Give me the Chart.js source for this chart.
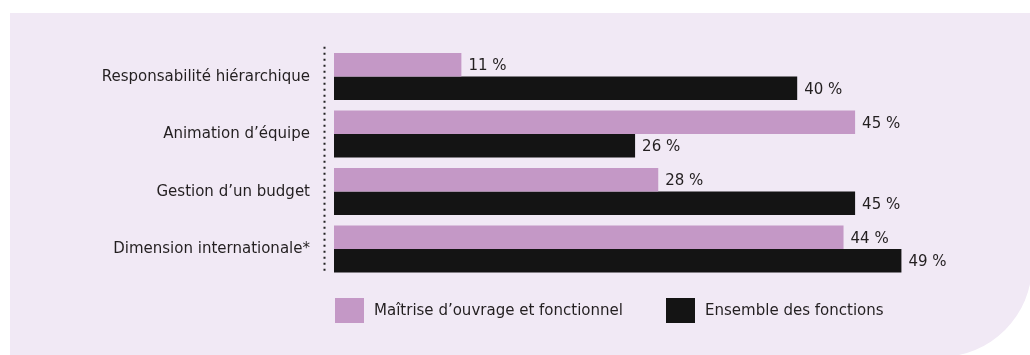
<!DOCTYPE html>
<html>
<head>
<meta charset="utf-8">
<script src="https://cdn.jsdelivr.net/npm/chart.js@4"></script>
<style>
  html, body { margin: 0; padding: 0; background: #fff; }
  #wrap { width: 1030px; height: 355px; }
</style>
</head>
<body>
<div id="wrap"><canvas id="chart" width="1030" height="355"></canvas></div>
<script>
// data
const categories = [
  "Responsabilité hiérarchique",
  "Animation d’équipe",
  "Gestion d’un budget",
  "Dimension internationale*"
];
const seriesNames = ["Maîtrise d’ouvrage et fonctionnel", "Ensemble des fonctions"];
const maitriseValues = [11, 45, 28, 44];
const ensembleValues = [40, 26, 45, 49];
const seriesColors = ["#c498c6", "#141414"];

const FONT = "'DejaVu Sans Condensed', 'Liberation Sans Narrow', sans-serif";
const FONT_SIZE = 16.7;
const TEXT = "#231f20";

// lavender panel with the rounded bottom-right corner
const panelBg = {
  id: "panelBg",
  beforeDraw(chart) {
    const c = chart.ctx;
    c.save();
    c.fillStyle = "#f1e9f5";
    c.beginPath();
    c.moveTo(10, 13);
    c.lineTo(1032, 13);
    c.lineTo(1032, 265);
    c.arc(940, 265, 92, 0, Math.PI / 2);
    c.lineTo(10, 357);
    c.closePath();
    c.fill();
    c.restore();
  }
};

// dotted axis line left of the bars
const dottedAxis = {
  id: "dottedAxis",
  afterDraw(chart) {
    const c = chart.ctx;
    const a = chart.chartArea;
    c.save();
    c.strokeStyle = "#222";
    c.lineWidth = 2;
    c.setLineDash([2, 4]);
    c.beginPath();
    c.moveTo(a.left - 9.5, a.top - 1);
    c.lineTo(a.left - 9.5, a.bottom - 4);
    c.stroke();
    c.restore();
  }
};

// "xx %" after each bar
const valueLabels = {
  id: "valueLabels",
  afterDatasetsDraw(chart) {
    const c = chart.ctx;
    c.save();
    c.font = FONT_SIZE + "px " + FONT;
    c.fillStyle = TEXT;
    c.textBaseline = "middle";
    c.textAlign = "left";
    chart.data.datasets.forEach((ds, i) => {
      chart.getDatasetMeta(i).data.forEach((bar, j) => {
        c.fillText(ds.data[j] + " %", bar.x + 7, bar.y + 1);
      });
    });
    c.restore();
  }
};

// legend under the chart
const bottomLegend = {
  id: "bottomLegend",
  afterDraw(chart) {
    const c = chart.ctx;
    const xs = [335, 666];
    c.save();
    c.font = FONT_SIZE + "px " + FONT;
    c.textBaseline = "middle";
    chart.data.datasets.forEach((ds, i) => {
      c.fillStyle = ds.backgroundColor;
      c.fillRect(xs[i], 298, 29, 25);
      c.fillStyle = TEXT;
      c.fillText(ds.label, xs[i] + 39, 311);
    });
    c.restore();
  }
};

new Chart(document.getElementById("chart"), {
  type: "bar",
  data: {
    labels: categories,
    datasets: [
      { label: seriesNames[0], data: maitriseValues, backgroundColor: seriesColors[0] },
      { label: seriesNames[1], data: ensembleValues, backgroundColor: seriesColors[1] }
    ]
  },
  options: {
    indexAxis: "y",
    responsive: false,
    animation: false,
    layout: { padding: { top: 47.75, bottom: 77.25, right: 1.2, left: 0 } },
    datasets: { bar: { categoryPercentage: 0.817, barPercentage: 1 } },
    plugins: { legend: { display: false }, tooltip: { enabled: false } },
    scales: {
      x: { display: false, min: 0, max: 60 },
      y: {
        grid: { display: false, drawTicks: false },
        border: { display: false },
        ticks: { color: TEXT, font: { family: FONT, size: FONT_SIZE }, padding: 24 },
        afterFit(scale) { scale.width = 334; }
      }
    }
  },
  plugins: [panelBg, dottedAxis, valueLabels, bottomLegend]
});
</script>
</body>
</html>
